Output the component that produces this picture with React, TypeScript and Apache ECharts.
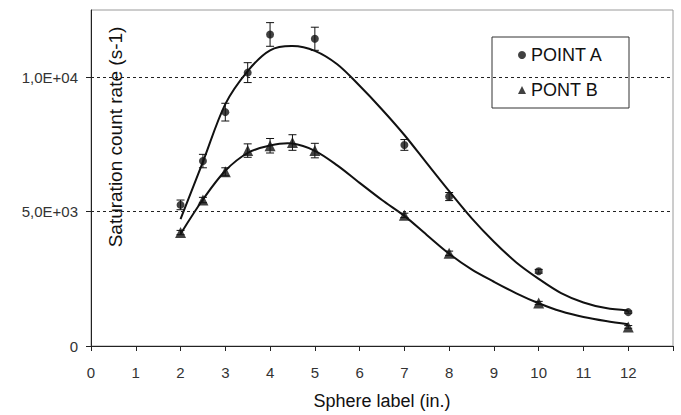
import React, { useEffect, useRef } from "react";
import * as echarts from "echarts";

// Measured points
const xA = [2, 2.5, 3, 3.5, 4, 5, 7, 8, 10, 12];
const valA = [5250, 6880, 8700, 10170, 11590, 11430, 7480, 5560, 2780, 1260];
const errA = [180, 250, 330, 370, 440, 430, 200, 150, 70, 40];

const xB = [2, 2.5, 3, 3.5, 4, 4.5, 5, 7, 8, 10, 12];
const valB = [4220, 5430, 6480, 7270, 7450, 7570, 7270, 4860, 3450, 1600, 710];
const errB = [80, 100, 150, 250, 270, 290, 270, 80, 80, 60, 50];

// Fitted curves
const fitX = [2, 2.5, 3, 3.5, 4, 4.5, 5, 5.5, 6, 6.5, 7, 7.5, 8, 8.5, 9, 9.5, 10, 10.5, 11, 11.5, 12];
const fitA = [4720, 6850, 9000, 10230, 11000, 11160, 10980, 10480, 9680, 8800, 7850, 6800, 5760, 4760, 3880, 3110, 2500, 1970, 1620, 1410, 1320];
const fitB = [4170, 5450, 6520, 7180, 7460, 7530, 7260, 6720, 6070, 5430, 4840, 4130, 3430, 2850, 2390, 1960, 1590, 1290, 1080, 930, 810];

const xTickLabels = ["0", "1", "2", "3", "4", "5", "6", "7", "8", "9", "10", "11", "12"];
const yTickValues = [0, 5000, 10000];
const yTickLabels = ["0", "5,0E+03", "1,0E+04"];
const gridValues = [5000, 10000];

const FONT = "'Liberation Sans', Arial, sans-serif";

export default function App() {
  const ref = useRef<HTMLDivElement>(null);
  useEffect(() => {
    if (!ref.current) return;
    const chart = echarts.init(ref.current, null, { renderer: "svg" });
    const errData = (xs: number[], vs: number[], es: number[]) =>
      xs.map((x, i) => [x, vs[i] - es[i], vs[i] + es[i]]);
    const errSeries = (name: string, data: number[][]) => ({
      type: "custom",
      name: name + "_err",
      data,
      z: 3,
      silent: true,
      renderItem: (params: any, api: any) => {
        const x = api.value(0);
        const lo = api.value(1);
        const hi = api.value(2);
        const p1 = api.coord([x, hi]);
        const p2 = api.coord([x, lo]);
        const w = 4;
        const st = { stroke: "#111", lineWidth: 1 };
        return {
          type: "group",
          children: [
            { type: "line", shape: { x1: p1[0], y1: p1[1], x2: p2[0], y2: p2[1] }, style: st },
            { type: "line", shape: { x1: p1[0] - w, y1: p1[1], x2: p1[0] + w, y2: p1[1] }, style: st },
            { type: "line", shape: { x1: p2[0] - w, y1: p2[1], x2: p2[0] + w, y2: p2[1] }, style: st },
          ],
        };
      },
    });
    const curveSeries = (name: string, ys: number[], withGrid: boolean) => ({
      type: "custom",
      name,
      data: fitX.map((x, i) => [x, ys[i]]),
      z: 2,
      silent: true,
      renderItem: (params: any, api: any) => {
        if (params.dataIndex !== 0) return { type: "group", children: [] };
        const pts = fitX.map((x, i) => api.coord([x, ys[i]]));
        return {
          type: "polyline",
          shape: { points: pts, smooth: 0.33 },
          style: { stroke: "#111", lineWidth: 2, fill: "none" },
        };
      },
      ...(withGrid
        ? {
            markLine: {
              silent: true,
              symbol: "none",
              label: { show: false },
              lineStyle: { color: "#222", width: 1, type: [3, 3] },
              data: gridValues.map((v) => ({ yAxis: v })),
            },
          }
        : {}),
    });
    chart.setOption({
      animation: false,
      backgroundColor: "#fff",
      textStyle: { fontFamily: FONT },
      grid: {
        left: 91,
        top: 10,
        right: 8,
        bottom: 64,
        show: true,
        borderColor: "#9a9a9a",
        borderWidth: 1,
      },
      legend: {
        left: 492,
        top: 37,
        orient: "vertical",
        data: [
          { name: "POINT A", icon: "circle" },
          { name: "PONT B", icon: "triangle" },
        ],
        itemWidth: 8,
        itemHeight: 8,
        itemGap: 17,
        padding: [9, 26, 9, 26],
        borderColor: "#333",
        borderWidth: 1,
        backgroundColor: "#fff",
        textStyle: { fontFamily: FONT, fontSize: 18, color: "#111" },
      },
      xAxis: {
        type: "value",
        min: 0,
        max: 13,
        interval: 1,
        name: "Sphere label (in.)",
        nameLocation: "middle",
        nameGap: 46,
        nameTextStyle: { fontFamily: FONT, fontSize: 18, color: "#111" },
        axisLine: { show: true, onZero: false, lineStyle: { color: "#222", width: 1 } },
        axisTick: { show: true, length: 5, lineStyle: { color: "#222" } },
        axisLabel: {
          fontFamily: FONT,
          fontSize: 15,
          color: "#333",
          margin: 19,
          customValues: xTickLabels.map((_, i) => i),
          formatter: (v: number) => xTickLabels[Math.round(v)] ?? "",
        },
        splitLine: { show: false },
      },
      yAxis: {
        type: "value",
        min: 0,
        max: 12500,
        interval: 5000,
        axisLine: { show: true, lineStyle: { color: "#222", width: 1 } },
        axisTick: { show: true, length: 5, lineStyle: { color: "#222" }, customValues: yTickValues },
        axisLabel: {
          fontFamily: FONT,
          fontSize: 15,
          color: "#333",
          margin: 13,
          customValues: yTickValues,
          formatter: (v: number) => {
            const i = yTickValues.indexOf(v);
            return i >= 0 ? yTickLabels[i] : "";
          },
        },
        splitLine: { show: false },
      },
      graphic: [
        {
          type: "text",
          x: 115,
          y: 137,
          rotation: Math.PI / 2,
          style: {
            text: "Saturation count rate (s-1)",
            font: `19px ${FONT}`,
            fill: "#111",
            align: "center",
            verticalAlign: "middle",
          },
          z: 10,
        },
      ],
      series: [
        curveSeries("fitA", fitA, true),
        curveSeries("fitB", fitB, false),
        errSeries("A", errData(xA, valA, errA)),
        errSeries("B", errData(xB, valB, errB)),
        {
          type: "scatter",
          name: "POINT A",
          symbol: "circle",
          symbolSize: 8,
          itemStyle: { color: "#111" },
          data: xA.map((x, i) => [x, valA[i]]),
          z: 4,
        },
        {
          type: "scatter",
          name: "PONT B",
          symbol: "triangle",
          symbolSize: 11,
          itemStyle: { color: "#111" },
          data: xB.map((x, i) => [x, valB[i]]),
          z: 4,
        },
      ],
    });
    return () => chart.dispose();
  }, []);
  return <div ref={ref} style={{ width: 681, height: 415, position: "absolute", left: 0, top: 0 }} />;
}
